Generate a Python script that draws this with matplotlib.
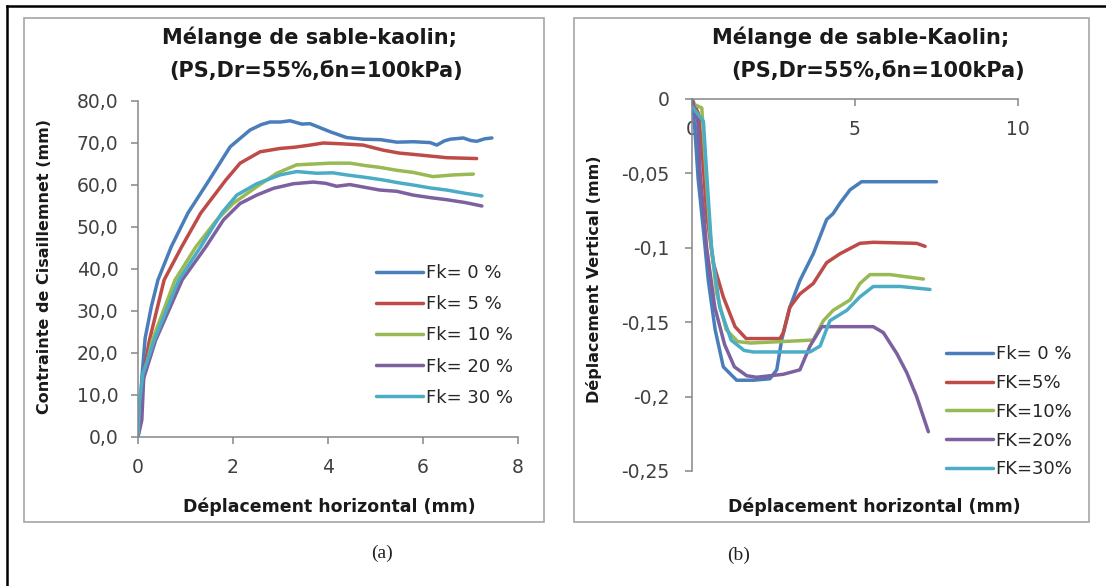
import matplotlib
matplotlib.use("Agg")
import matplotlib.pyplot as plt
from matplotlib.patches import Rectangle
from matplotlib.lines import Line2D

plt.rcParams['font.family'] = ['DejaVu Sans']

W, H = 1106, 586

# --- (a) contrainte de cisaillement ---
fk0_x = [0, 0.04, 0.08, 0.15, 0.28, 0.42, 0.7, 1.05, 1.5, 1.94, 2.36, 2.6, 2.78, 3.0, 3.2, 3.45, 3.62, 3.8,
         4.04, 4.39, 4.74, 5.1, 5.45, 5.8, 6.15, 6.29, 6.45, 6.57, 6.85, 7.0, 7.13, 7.3, 7.45]
fk0_y = [0, 6, 14, 23.5, 31, 37.4, 45.3, 53.3, 61.2, 69.1, 73.1, 74.4, 75.0, 75.0, 75.3, 74.5, 74.6, 73.8,
         72.7, 71.3, 70.9, 70.8, 70.2, 70.3, 70.1, 69.5, 70.5, 70.9, 71.2, 70.6, 70.4, 71.0, 71.2]
fk5_x = [0, 0.05, 0.1, 0.24, 0.55, 0.92, 1.32, 1.85, 2.15, 2.57, 2.99, 3.3, 3.62, 3.9, 4.3, 4.74, 5.16, 5.5,
         5.79, 6.5, 7.13]
fk5_y = [0, 5, 14, 23, 37.4, 45.3, 53.3, 61.2, 65.2, 67.9, 68.7, 69.0, 69.5, 70.0, 69.8, 69.5, 68.3, 67.6,
         67.3, 66.5, 66.3]
fk10_x = [0, 0.06, 0.1, 0.3, 0.78, 1.22, 1.66, 2.0, 2.5, 2.92, 3.34, 3.7, 4.04, 4.46, 4.8, 5.09, 5.45, 5.79,
          6.21, 6.64, 7.06]
fk10_y = [0, 6, 13, 23, 37.4, 45.3, 51.7, 55.6, 59.6, 62.8, 64.8, 65.0, 65.2, 65.2, 64.6, 64.2, 63.5, 63.0,
          62.0, 62.4, 62.6]
fk20_x = [0, 0.08, 0.12, 0.37, 0.93, 1.43, 1.8, 2.15, 2.5, 2.85, 3.27, 3.69, 3.95, 4.18, 4.46, 4.75, 5.09,
          5.45, 5.79, 6.15, 6.5, 6.9, 7.24]
fk20_y = [0, 4, 14, 23, 37.4, 45.3, 51.7, 55.6, 57.6, 59.2, 60.3, 60.7, 60.4, 59.7, 60.1, 59.5, 58.8,
          58.5, 57.6, 57.0, 56.5, 55.8, 55.0]
fk30_x = [0, 0.03, 0.1, 0.34, 0.86, 1.32, 1.76, 2.08, 2.5, 2.99, 3.34, 3.76, 4.1, 4.39, 4.8, 5.16, 5.5, 5.79,
          6.15, 6.5, 6.9, 7.24]
fk30_y = [0, 8, 15, 23, 37.4, 45.3, 53.3, 57.6, 60.3, 62.4, 63.2, 62.8, 62.9, 62.4, 61.8, 61.2, 60.5, 60.0,
          59.3, 58.8, 58.0, 57.4]

# --- (b) deplacement vertical ---
v0_x = [0, 0.09, 0.19, 0.35, 0.5, 0.71, 0.96, 1.37, 1.88, 2.39, 2.6, 2.75, 3.0, 3.31, 3.72, 4.13, 4.33, 4.54,
        4.85, 5.2, 5.77, 7.5]
v0_y = [0, -0.021, -0.054, -0.088, -0.122, -0.155, -0.18, -0.189, -0.189, -0.188, -0.182, -0.162, -0.14,
        -0.122, -0.104, -0.081, -0.077, -0.07, -0.061, -0.0556, -0.0556, -0.0556]
v5_x = [0, 0.2, 0.3, 0.45, 0.65, 0.96, 1.32, 1.66, 2.7, 2.8, 3.0, 3.31, 3.72, 4.13, 4.54, 5.15, 5.56, 6.89, 7.15]
v5_y = [0, -0.01, -0.032, -0.077, -0.11, -0.133, -0.153, -0.161, -0.161, -0.157, -0.14, -0.131, -0.124,
        -0.11, -0.104, -0.097, -0.0963, -0.097, -0.099]
v10_x = [0, 0.3, 0.4, 0.55, 0.75, 1.05, 1.4, 1.8, 3.72, 4.03, 4.33, 4.85, 5.15, 5.46, 6.07, 7.1]
v10_y = [-0.003, -0.006, -0.04, -0.09, -0.13, -0.155, -0.163, -0.164, -0.162, -0.149, -0.142, -0.135,
         -0.124, -0.118, -0.118, -0.121]
v20_x = [0, 0.18, 0.25, 0.45, 0.7, 1.0, 1.3, 1.68, 1.98, 2.8, 3.31, 3.62, 3.98, 5.56, 5.87, 6.28, 6.59, 6.89,
         7.25]
v20_y = [0, -0.016, -0.05, -0.1, -0.14, -0.165, -0.18, -0.186, -0.187, -0.185, -0.182, -0.166, -0.153,
         -0.153, -0.157, -0.171, -0.184, -0.2, -0.2236]
v30_x = [0, 0.35, 0.45, 0.6, 0.85, 1.2, 1.6, 1.88, 3.62, 3.93, 4.23, 4.75, 5.15, 5.56, 6.39, 7.3]
v30_y = [-0.005, -0.015, -0.05, -0.1, -0.14, -0.162, -0.169, -0.17, -0.17, -0.166, -0.149, -0.142, -0.133,
         -0.126, -0.126, -0.128]

labels_a = ['Fk= 0 %', 'Fk= 5 %', 'Fk= 10 %', 'Fk= 20 %', 'Fk= 30 %']
labels_b = ['Fk= 0 %', 'FK=5%', 'FK=10%', 'FK=20%', 'FK=30%']
colors = ['#4A7EBB', '#BE4B48', '#98B954', '#7D60A0', '#4BACC6']

ticks_a_x = [0, 2, 4, 6, 8]
ticks_a_y = [0, 10, 20, 30, 40, 50, 60, 70, 80]
ticks_b_x = [0, 5, 10]
ticks_b_y = [0, -0.05, -0.1, -0.15, -0.2, -0.25]


def fx(px):
    return px / W


def fy(py):
    return 1 - py / H


def virgule(v, dec=None):
    if abs(v) < 1e-12:
        return '0' if dec is None else '0,0'
    s = ('%.1f' % v) if dec else ('%g' % v)
    return s.replace('.', ',')


fig = plt.figure(figsize=(W / 100, H / 100), dpi=100)

# cadre exterieur (haut + gauche) et cadres des deux graphes
fig.add_artist(Line2D([fx(7), fx(1106)], [fy(6), fy(6)], color='black', lw=1.8))
fig.add_artist(Line2D([fx(7), fx(7)], [fy(6), fy(586)], color='black', lw=1.8))
for x1, x2 in [(24, 544), (574, 1089)]:
    fig.add_artist(Rectangle((fx(x1), fy(522)), fx(x2 - x1), (522 - 18) / H, fill=False,
                             edgecolor='#a6a6a6', lw=1.2))

gray = '#868686'
tick_col = '#404040'
txt_col = '#1a1a1a'

# ---- graphe (a)
ax1 = fig.add_axes([fx(138), fy(437), fx(518 - 138), (437 - 101) / H])
series_a = [(fk0_x, fk0_y), (fk5_x, fk5_y), (fk10_x, fk10_y), (fk20_x, fk20_y), (fk30_x, fk30_y)]
for (xs, ys), c, lab in zip(series_a, colors, labels_a):
    ax1.plot(xs, ys, color=c, lw=2.5, label=lab, solid_capstyle='round', solid_joinstyle='round')
ax1.set_xlim(0, 8)
ax1.set_ylim(0, 80)
ax1.set_xticks(ticks_a_x)
ax1.set_yticks(ticks_a_y)
ax1.set_yticklabels([virgule(v, 1) for v in ticks_a_y])
for s in ['top', 'right']:
    ax1.spines[s].set_visible(False)
for s in ['left', 'bottom']:
    ax1.spines[s].set_color(gray)
    ax1.spines[s].set_linewidth(1.1)
ax1.tick_params(axis='both', direction='out', length=5, width=1.1, color=gray,
                labelsize=13.5, labelcolor=tick_col)
ax1.tick_params(axis='x', pad=10)
ax1.tick_params(axis='y', pad=9)
ax1.patch.set_alpha(0)
ax1.legend(loc='upper left', bbox_to_anchor=(fx(376), fy(264)), bbox_transform=fig.transFigure,
           frameon=False, fontsize=13, handlelength=2.6, handletextpad=0.15, labelspacing=0.73,
           borderpad=0, borderaxespad=0, labelcolor='#262626')

# ---- graphe (b)
ax2 = fig.add_axes([fx(692), fy(471), fx(1018 - 692), (471 - 99) / H])
series_b = [(v0_x, v0_y), (v5_x, v5_y), (v10_x, v10_y), (v20_x, v20_y), (v30_x, v30_y)]
for (xs, ys), c, lab in zip(series_b, colors, labels_b):
    ax2.plot(xs, ys, color=c, lw=2.5, label=lab, solid_capstyle='round', solid_joinstyle='round')
ax2.set_xlim(0, 10)
ax2.set_ylim(-0.25, 0)
ax2.set_xticks(ticks_b_x)
ax2.set_yticks(ticks_b_y)
ax2.set_yticklabels([virgule(v) for v in ticks_b_y])
ax2.spines['bottom'].set_position(('data', 0))
for s in ['top', 'right']:
    ax2.spines[s].set_visible(False)
for s in ['left', 'bottom']:
    ax2.spines[s].set_color(gray)
    ax2.spines[s].set_linewidth(1.1)
ax2.tick_params(axis='both', direction='out', length=5, width=1.1, color=gray,
                labelsize=13.5, labelcolor=tick_col)
ax2.tick_params(axis='x', pad=10)
ax2.tick_params(axis='y', pad=11)
ax2.patch.set_alpha(0)
ax2.legend(loc='upper left', bbox_to_anchor=(fx(946), fy(345)), bbox_transform=fig.transFigure,
           frameon=False, fontsize=13, handlelength=2.6, handletextpad=0.15, labelspacing=0.6,
           borderpad=0, borderaxespad=0, labelcolor='#262626')

# titres, noms d'axes, legendes (a)/(b)
tkw = dict(fontsize=15, fontweight='bold', color=txt_col, ha='center', va='center')
fig.text(fx(309), fy(37), 'Mélange de sable-kaolin;', **tkw)
fig.text(fx(316), fy(71), '(PS,Dr=55%,бn=100kPa)', **tkw)
fig.text(fx(861), fy(37), 'Mélange de sable-Kaolin;', **tkw)
fig.text(fx(878), fy(71), '(PS,Dr=55%,бn=100kPa)', **tkw)

lkw = dict(fontsize=12.5, fontweight='bold', color=txt_col, ha='center', va='center')
fig.text(fx(329), fy(507), 'Déplacement horizontal (mm)', **lkw)
fig.text(fx(874), fy(507), 'Déplacement horizontal (mm)', **lkw)
vkw = dict(lkw, fontsize=11.5, rotation=90)
fig.text(fx(45), fy(267), 'Contrainte de Cisaillemnet (mm)', **vkw)
fig.text(fx(594), fy(279), 'Déplacement Vertical (mm)', **vkw)

ckw = dict(fontsize=14, family='Liberation Serif', color='#222222', ha='center', va='center')
fig.text(fx(382), fy(553), '(a)', **ckw)
fig.text(fx(739), fy(555), '(b)', **ckw)

fig.savefig('out.png', dpi=100)
